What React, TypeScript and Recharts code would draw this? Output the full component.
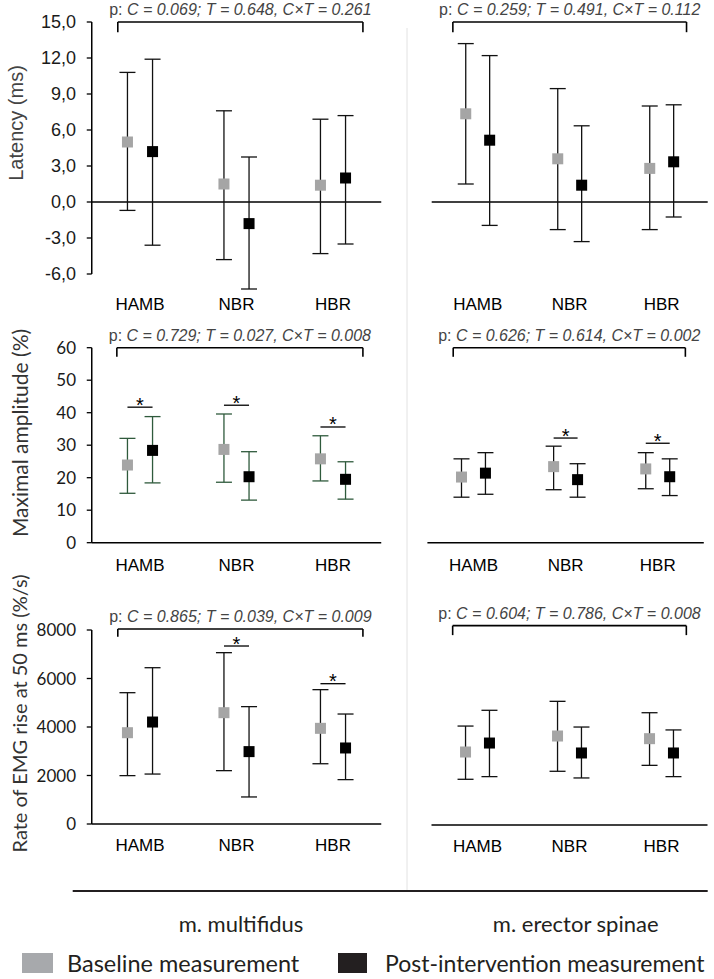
import React from 'react';
import { ComposedChart, Scatter, ErrorBar, XAxis, YAxis, ReferenceLine } from 'recharts';

// ---------- data ----------
const categories = ['HAMB', 'NBR', 'HBR'];

// Latency (ms) – m. multifidus
const latMfBaseMean = [5.0, 1.5, 1.4];
const latMfBaseLow = [-0.7, -4.8, -4.3];
const latMfBaseHigh = [10.8, 7.6, 6.9];
const latMfPostMean = [4.2, -1.8, 2.0];
const latMfPostLow = [-3.6, -7.25, -3.5];
const latMfPostHigh = [11.9, 3.75, 7.2];

// Latency (ms) – m. erector spinae
const latEsBaseMean = [7.35, 3.6, 2.8];
const latEsBaseLow = [1.5, -2.3, -2.3];
const latEsBaseHigh = [13.2, 9.45, 8.0];
const latEsPostMean = [5.15, 1.4, 3.35];
const latEsPostLow = [-1.95, -3.3, -1.25];
const latEsPostHigh = [12.2, 6.35, 8.1];

// Maximal amplitude (%) – m. multifidus
const ampMfBaseMean = [23.9, 28.7, 25.8];
const ampMfBaseLow = [15.2, 18.6, 19.0];
const ampMfBaseHigh = [32.1, 39.6, 32.9];
const ampMfPostMean = [28.4, 20.3, 19.5];
const ampMfPostLow = [18.4, 13.1, 13.4];
const ampMfPostHigh = [38.8, 28.0, 24.9];

// Maximal amplitude (%) – m. erector spinae
const ampEsBaseMean = [20.2, 23.4, 22.7];
const ampEsBaseLow = [14.0, 16.3, 16.6];
const ampEsBaseHigh = [25.8, 29.7, 27.7];
const ampEsPostMean = [21.4, 19.4, 20.3];
const ampEsPostLow = [14.9, 14.0, 14.5];
const ampEsPostHigh = [27.7, 24.3, 25.8];

// Rate of EMG rise at 50 ms (%/s) – m. multifidus
const rateMfBaseMean = [3765, 4590, 3945];
const rateMfBaseLow = [1995, 2200, 2485];
const rateMfBaseHigh = [5415, 7065, 5540];
const rateMfPostMean = [4205, 2985, 3135];
const rateMfPostLow = [2060, 1115, 1830];
const rateMfPostHigh = [6445, 4840, 4535];

// Rate of EMG rise at 50 ms (%/s) – m. erector spinae
const rateEsBaseMean = [3010, 3670, 3560];
const rateEsBaseLow = [1885, 2215, 2460];
const rateEsBaseHigh = [4080, 5100, 4630];
const rateEsPostMean = [3380, 2970, 2970];
const rateEsPostLow = [1995, 1940, 1995];
const rateEsPostHigh = [4730, 4040, 3920];

// tick labels
const latencyTicks = [-6, -3, 0, 3, 6, 9, 12, 15];
const amplitudeTicks = [0, 10, 20, 30, 40, 50, 60];
const rateTicks = [0, 2000, 4000, 6000, 8000];

// p-value annotations
const pLatMf = 'C = 0.069; T = 0.648, C×T = 0.261';
const pLatEs = 'C = 0.259; T = 0.491, C×T = 0.112';
const pAmpMf = 'C = 0.729; T = 0.027, C×T = 0.008';
const pAmpEs = 'C = 0.626; T = 0.614, C×T = 0.002';
const pRateMf = 'C = 0.865; T = 0.039, C×T = 0.009';
const pRateEs = 'C = 0.604; T = 0.786, C×T = 0.008';

// significance bar levels (null = none)
const sigLatMf: (number | null)[] = [null, null, null];
const sigLatEs: (number | null)[] = [null, null, null];
const sigAmpMf: (number | null)[] = [41.7, 42.3, 35.6];
const sigAmpEs: (number | null)[] = [null, 32.2, 30.6];
const sigRateMf: (number | null)[] = [null, 7340, 5786];
const sigRateEs: (number | null)[] = [null, null, null];

// ---------- styles ----------
const ARIAL = '"Liberation Sans", Arial, Helvetica, sans-serif';
const LATO = 'Lato, "Open Sans", sans-serif';
const GRAY = '#a5a5a5';
const BLACK = '#000000';
const OFFSET = 0.13;

function buildSeries(mean: number[], low: number[], high: number[], offset: number) {
  return mean.map((m, i) => ({ x: i + offset, y: m, err: [m - low[i], high[i] - m] }));
}

const makeSquare = (fill: string) => (props: any) => {
  const { cx, cy } = props;
  if (cx == null || cy == null) return <g />;
  return <rect x={cx - 5.5} y={cy - 5.5} width={11} height={11} fill={fill} />;
};

const makePLabel = (text: string) => (props: any) => {
  const vb = props.viewBox || {};
  const cx = (vb.x ?? 0) + (vb.width ?? 0) / 2;
  const y = (vb.y ?? 0) - 7;
  return (
    <text x={cx} y={y} textAnchor="middle" fontSize={16} fontFamily={ARIAL} fill="#444">
      <tspan>p: </tspan>
      <tspan fontStyle="italic">{text}</tspan>
    </text>
  );
};

const starLabel = (props: any) => {
  const vb = props.viewBox || {};
  const cx = (vb.x ?? 0) + (vb.width ?? 0) / 2;
  return (
    <text x={cx} y={(vb.y ?? 0) + 4.5} textAnchor="middle" fontSize={20} fontFamily={ARIAL} fill="#000">
      *
    </text>
  );
};

type PanelProps = {
  left: number;
  top: number;
  width: number;
  height: number;
  margin: { top: number; right: number; bottom: number; left: number };
  domain: [number, number];
  ticks?: number[];
  showY: boolean;
  tickFont?: string;
  tickFontSize?: number;
  fmt?: (v: number) => string;
  base: any[];
  post: any[];
  errColor: string;
  pText: string;
  bracket: { x1: number; x2: number; y: number; yTick: number };
  sig: (number | null)[];
  zeroLine?: boolean;
  xAxisLine: boolean;
  catMargin: number;
  ySegment?: [number, number];
};

function Panel(p: PanelProps) {
  const seg = (x1: number, y1: number, x2: number, y2: number) => [
    { x: x1, y: y1 },
    { x: x2, y: y2 },
  ];
  return (
    <div style={{ position: 'absolute', left: p.left, top: p.top }}>
      <ComposedChart width={p.width} height={p.height} margin={p.margin}>
        <XAxis
          type="number"
          dataKey="x"
          domain={[-0.5, 2.5]}
          allowDataOverflow
          ticks={[0, 1, 2]}
          interval={0}
          tickFormatter={(v: number) => categories[v] ?? ''}
          axisLine={p.xAxisLine ? { stroke: '#000', strokeWidth: 1.5 } : false}
          tickLine={false}
          tickSize={0}
          tickMargin={p.catMargin}
          height={30}
          tick={{ fontSize: 17, fill: '#000', fontFamily: ARIAL }}
        />
        <YAxis
          type="number"
          dataKey="y"
          domain={p.domain}
          allowDataOverflow
          hide={!p.showY}
          width={60}
          ticks={p.ticks}
          interval={0}
          tickFormatter={p.fmt}
          axisLine={p.ySegment ? false : { stroke: '#000', strokeWidth: 1.5 }}
          tickLine={{ stroke: '#000', strokeWidth: 1.3 }}
          tickSize={5}
          tickMargin={10.75}
          tick={{ fontSize: p.tickFontSize ?? 17, fill: '#1a1a1a', fontFamily: p.tickFont ?? ARIAL }}
        />
        {p.zeroLine && <ReferenceLine y={0} stroke="#000" strokeWidth={1.5} />}
        {p.ySegment && (
          <ReferenceLine
            segment={seg(-0.5, p.ySegment[0], -0.5, p.ySegment[1])}
            stroke="#000"
            strokeWidth={1.5}
            ifOverflow="visible"
          />
        )}
        <ReferenceLine
          segment={seg(p.bracket.x1, p.bracket.y, p.bracket.x2, p.bracket.y)}
          stroke="#000"
          strokeWidth={1.6}
          ifOverflow="visible"
          label={makePLabel(p.pText)}
        />
        <ReferenceLine
          segment={seg(p.bracket.x1, p.bracket.y, p.bracket.x1, p.bracket.yTick)}
          stroke="#000"
          strokeWidth={1.6}
          ifOverflow="visible"
        />
        <ReferenceLine
          segment={seg(p.bracket.x2, p.bracket.y, p.bracket.x2, p.bracket.yTick)}
          stroke="#000"
          strokeWidth={1.6}
          ifOverflow="visible"
        />
        {p.sig.map((s, i) =>
          s == null ? null : (
            <ReferenceLine
              key={'sig' + i}
              segment={seg(i - OFFSET, s, i + OFFSET, s)}
              stroke="#000"
              strokeWidth={1.3}
              ifOverflow="visible"
              label={starLabel}
            />
          )
        )}
        <Scatter data={p.base} fill={GRAY} shape={makeSquare(GRAY)} isAnimationActive={false}>
          <ErrorBar dataKey="err" direction="y" width={8} stroke={p.errColor} strokeWidth={1.3} isAnimationActive={false} />
        </Scatter>
        <Scatter data={p.post} fill={BLACK} shape={makeSquare(BLACK)} isAnimationActive={false}>
          <ErrorBar dataKey="err" direction="y" width={8} stroke={p.errColor} strokeWidth={1.3} isAnimationActive={false} />
        </Scatter>
      </ComposedChart>
    </div>
  );
}

const commaFmt = (v: number) => v.toFixed(1).replace('.', ',');
const intFmt = (v: number) => String(v);

export default function App() {
  const leftMargin = (top: number, bottom = 8) => ({ top, right: 8.75, bottom, left: 31.75 });
  return (
    <div
      style={{
        position: 'absolute',
        left: 0,
        top: 0,
        width: 714,
        height: 979,
        background: '#fff',
        overflow: 'hidden',
      }}
    >
      <svg width={714} height={979} style={{ position: 'absolute', left: 0, top: 0 }}>
        <line x1={407} y1={28} x2={407} y2={891} stroke="#e2e2e2" strokeWidth={1} />
        <line x1={72.7} y1={891} x2={707.7} y2={891} stroke="#231f20" strokeWidth={2} />
        <text
          transform="translate(15.5,123) rotate(-90)"
          textAnchor="middle"
          dominantBaseline="central"
          fontSize={20}
          fontFamily={ARIAL}
          fill="#444"
        >
          Latency (ms)
        </text>
        <text
          transform="translate(19,433) rotate(-90)"
          textAnchor="middle"
          dominantBaseline="central"
          fontSize={21}
          fontFamily={LATO}
          fill="#333"
        >
          Maximal amplitude (%)
        </text>
        <text
          transform="translate(18.5,713.5) rotate(-90)"
          textAnchor="middle"
          dominantBaseline="central"
          fontSize={20}
          fontFamily={LATO}
          fill="#333"
        >
          Rate of EMG rise at 50 ms (%/s)
        </text>
        <text x={241} y={931.7} textAnchor="middle" fontSize={22} fontFamily={LATO} fill="#231f20">
          m. multifidus
        </text>
        <text x={575.7} y={931.7} textAnchor="middle" fontSize={22} fontFamily={LATO} fill="#231f20">
          m. erector spinae
        </text>
        <rect x={22} y={953} width={31} height={20} fill="#a7a9ac" />
        <text x={67} y={971.7} fontSize={23.5} fontFamily={LATO} fill="#231f20">
          Baseline measurement
        </text>
        <rect x={338} y={953} width={29} height={20} fill="#231f20" />
        <text x={385} y={971.7} fontSize={23} fontFamily={LATO} fill="#231f20">
          Post-intervention measurement
        </text>
      </svg>

      {/* Latency – multifidus */}
      <Panel
        left={0}
        top={0}
        width={390}
        height={330}
        margin={leftMargin(22)}
        domain={[-7.5, 15]}
        ticks={latencyTicks}
        showY
        tickFont={ARIAL}
        tickFontSize={18}
        fmt={commaFmt}
        base={buildSeries(latMfBaseMean, latMfBaseLow, latMfBaseHigh, -OFFSET)}
        post={buildSeries(latMfPostMean, latMfPostLow, latMfPostHigh, OFFSET)}
        errColor="#111"
        pText={pLatMf}
        bracket={{ x1: -0.23, x2: 2.31, y: 15, yTick: 14.15 }}
        sig={sigLatMf}
        zeroLine
        xAxisLine={false}
        catMargin={6}
        ySegment={[-6, 15]}
      />
      {/* Latency – erector spinae */}
      <Panel
        left={400}
        top={0}
        width={314}
        height={330}
        margin={{ top: 22, right: 6.3, bottom: 8, left: 31.7 }}
        domain={[-7.5, 15]}
        showY={false}
        base={buildSeries(latEsBaseMean, latEsBaseLow, latEsBaseHigh, -OFFSET)}
        post={buildSeries(latEsPostMean, latEsPostLow, latEsPostHigh, OFFSET)}
        errColor="#111"
        pText={pLatEs}
        bracket={{ x1: -0.27, x2: 2.27, y: 15, yTick: 14.15 }}
        sig={sigLatEs}
        zeroLine
        xAxisLine={false}
        catMargin={6}
      />
      {/* Amplitude – multifidus */}
      <Panel
        left={0}
        top={320}
        width={390}
        height={260.7}
        margin={leftMargin(27.7)}
        domain={[0, 60]}
        ticks={amplitudeTicks}
        showY
        tickFont={LATO}
        tickFontSize={17}
        fmt={intFmt}
        base={buildSeries(ampMfBaseMean, ampMfBaseLow, ampMfBaseHigh, -OFFSET)}
        post={buildSeries(ampMfPostMean, ampMfPostLow, ampMfPostHigh, OFFSET)}
        errColor="#2f5a3c"
        pText={pAmpMf}
        bracket={{ x1: -0.24, x2: 2.31, y: 60, yTick: 57.2 }}
        sig={sigAmpMf}
        xAxisLine
        catMargin={16}
      />
      {/* Amplitude – erector spinae */}
      <Panel
        left={400}
        top={320}
        width={314}
        height={260.7}
        margin={{ top: 27.7, right: 10.2, bottom: 8, left: 27.4 }}
        domain={[0, 60]}
        showY={false}
        base={buildSeries(ampEsBaseMean, ampEsBaseLow, ampEsBaseHigh, -OFFSET)}
        post={buildSeries(ampEsPostMean, ampEsPostLow, ampEsPostHigh, OFFSET)}
        errColor="#111"
        pText={pAmpEs}
        bracket={{ x1: -0.22, x2: 2.3, y: 60, yTick: 57.2 }}
        sig={sigAmpEs}
        xAxisLine
        catMargin={16}
      />
      {/* Rate – multifidus */}
      <Panel
        left={0}
        top={590}
        width={390}
        height={272}
        margin={leftMargin(40)}
        domain={[0, 8000]}
        ticks={rateTicks}
        showY
        tickFont={LATO}
        tickFontSize={17}
        fmt={intFmt}
        base={buildSeries(rateMfBaseMean, rateMfBaseLow, rateMfBaseHigh, -OFFSET)}
        post={buildSeries(rateMfPostMean, rateMfPostLow, rateMfPostHigh, OFFSET)}
        errColor="#111"
        pText={pRateMf}
        bracket={{ x1: -0.23, x2: 2.31, y: 8040, yTick: 7720 }}
        sig={sigRateMf}
        xAxisLine
        catMargin={15.4}
      />
      {/* Rate – erector spinae */}
      <Panel
        left={400}
        top={590}
        width={314}
        height={273}
        margin={{ top: 41, right: 6.5, bottom: 8, left: 31.5 }}
        domain={[0, 8000]}
        showY={false}
        base={buildSeries(rateEsBaseMean, rateEsBaseLow, rateEsBaseHigh, -OFFSET)}
        post={buildSeries(rateEsPostMean, rateEsPostLow, rateEsPostHigh, OFFSET)}
        errColor="#111"
        pText={pRateEs}
        bracket={{ x1: -0.27, x2: 2.27, y: 8220, yTick: 7830 }}
        sig={sigRateEs}
        xAxisLine
        catMargin={15.4}
      />
    </div>
  );
}
